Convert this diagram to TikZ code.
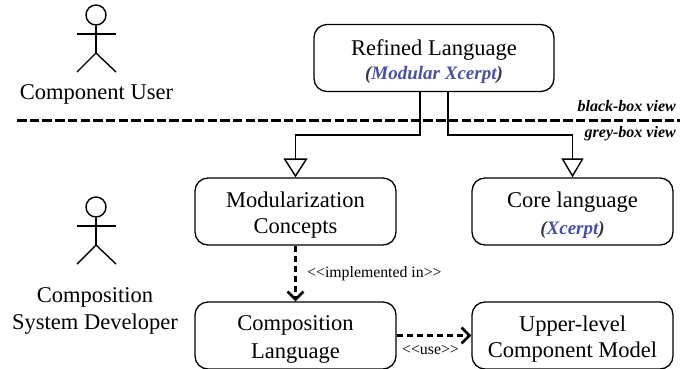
\documentclass[tikz,border=0pt]{standalone}
\usepackage{fontspec}
\setmainfont{Liberation Serif}
\usetikzlibrary{arrows.meta}
\definecolor{langblue}{HTML}{4A4FA5}
\definecolor{parengrey}{HTML}{333344}
\newcommand{\lang}[1]{{\fontsize{19pt}{20pt}\selectfont\bfseries\itshape\textcolor{parengrey}{(}\textcolor{langblue}{#1}\textcolor{parengrey}{)}}}
\newcommand{\topstrut}[1]{\rule{0pt}{#1pt}}
\newcommand{\botstrut}{\rule[-6pt]{0pt}{6pt}}
\tikzset{
  x=1pt,y=-1pt,
  box/.style={draw=black,line width=1.3pt,rounded corners=13pt,minimum width=201pt,minimum height=67pt,inner sep=0pt,align=center,font=\fontsize{22.5pt}{26.5pt}\selectfont},
  person/.style={line width=1.4pt},
  gen/.style={line width=1.4pt,-{Triangle[open,length=19pt,width=22pt,line width=1.4pt]}},
  genwide/.style={line width=1.4pt,-{Triangle[open,length=19pt,width=24pt,line width=1.4pt]}},
  dep/.style={line width=2.4pt,dash pattern=on 6.5pt off 3.5pt,-{Straight Barb[length=8pt,width=16pt,line width=2.6pt]}},
  viewline/.style={line width=2.2pt,dash pattern=on 9.5pt off 3.2pt},
  plain/.style={inner sep=0pt,align=center,font=\fontsize{22.5pt}{27pt}\selectfont},
  viewlabel/.style={inner sep=0pt,anchor=east,font=\fontsize{16pt}{18pt}\selectfont\bfseries\itshape},
  stereo/.style={inner sep=0pt,font=\fontsize{15.8pt}{18pt}\selectfont}
}
\begin{document}
\begin{tikzpicture}
\useasboundingbox (0,0) rectangle (687,368);
% boxes
\node[box,minimum width=240pt] (ref) at (434,58) {\topstrut{24}Refined Language\\[-2.5pt]\lang{Modular Xcerpt}\botstrut};
\node[box] (mod) at (295.5,211.5) {\topstrut{23.5}Modularization\\Concepts\botstrut};
\node[box] (core) at (572.5,211.5) {\topstrut{24.5}Core language\\\lang{Xcerpt}\botstrut};
\node[box] (comp) at (295.5,335.5) {\topstrut{23.5}Composition\\[1pt]Language\botstrut};
\node[box] (upper) at (572.5,335.5) {\topstrut{23.5}Upper-level\\Component Model\botstrut};
% actors
\node[draw,circle,line width=1.4pt,minimum size=20pt,inner sep=0pt] (h1) at (96,15) {};
\coordinate (hip1) at (96,53);
\coordinate (al1) at (77,34);
\coordinate (ar1) at (116,34);
\coordinate (fl1) at (77,72);
\coordinate (fr1) at (116,72);
\draw[person] (h1.south) -- (hip1);
\draw[person] (al1) -- (ar1);
\draw[person] (fl1) -- (hip1) -- (fr1);
\node[draw,circle,line width=1.4pt,minimum size=20pt,inner sep=0pt] (h2) at (96,207) {};
\coordinate (hip2) at (96,245);
\coordinate (al2) at (77,226);
\coordinate (ar2) at (116,226);
\coordinate (fl2) at (77,264);
\coordinate (fr2) at (116,264);
\draw[person] (h2.south) -- (hip2);
\draw[person] (al2) -- (ar2);
\draw[person] (fl2) -- (hip2) -- (fr2);
\node[plain] (cu) at (96.5,94.5) {Component User};
\node[plain] (csd) at (95,310.5) {Composition\\System Developer};
% view separator
\coordinate (vl) at (17,120.5);
\coordinate (vr) at (680,120.5);
\draw[viewline] (vl) -- (vr);
\node[viewlabel] (bb) at (676,106) {black-box view};
\node[viewlabel] (gb) at (676,134) {grey-box view};
% connectors
\coordinate (o1) at (420,91);
\coordinate (o2) at (448,91);
\coordinate (k1) at (420,135);
\coordinate (k2) at (448,135);
\draw[genwide] (o1) -- (k1) -| (mod.north);
\draw[gen] (o2) -- (k2) -| (core.north);
\draw[dep] (mod.south) -- (comp.north);
\draw[dep] (comp.east) -- (upper.west);
\node[stereo,anchor=west] (impl) at (307,274) {<{}<implemented in>{}>};
\node[stereo] (use) at (430.5,350) {<{}<use>{}>};
\end{tikzpicture}
\end{document}
